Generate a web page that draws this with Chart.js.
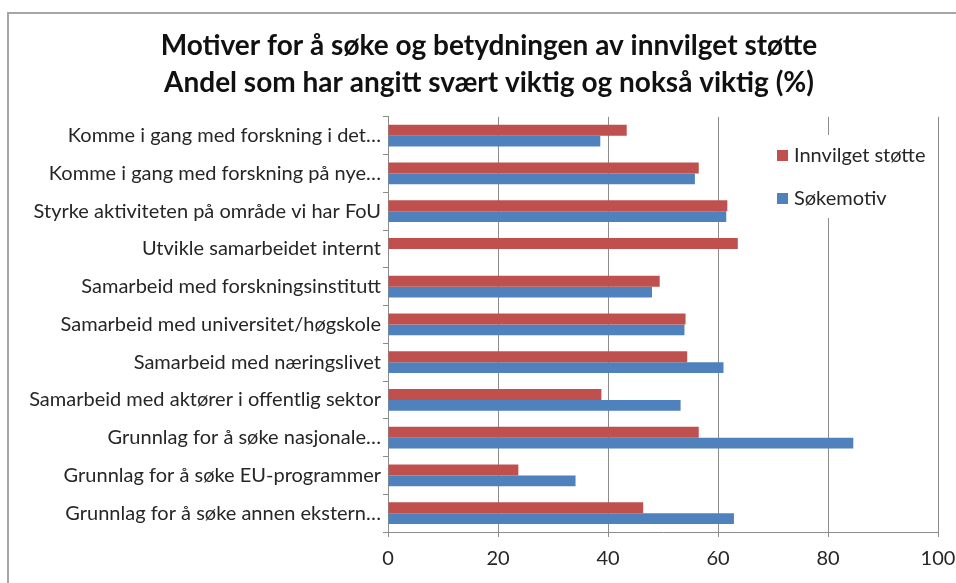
<!DOCTYPE html>
<html>
<head>
<meta charset="utf-8">
<title>Motiver for å søke</title>
<script src="https://cdn.jsdelivr.net/npm/chart.js@4.4.0/dist/chart.umd.min.js"></script>
<style>
  html, body { margin: 0; padding: 0; background: #fff; }
  #wrap { position: relative; width: 956px; height: 583px; }
</style>
</head>
<body>
<div id="wrap"><canvas id="chart" width="956" height="583"></canvas></div>
<script>
// data
const categories = [
  'Komme i gang med forskning i det…',
  'Komme i gang med forskning på nye…',
  'Styrke aktiviteten på område vi har FoU',
  'Utvikle samarbeidet internt',
  'Samarbeid med forskningsinstitutt',
  'Samarbeid med universitet/høgskole',
  'Samarbeid med næringslivet',
  'Samarbeid med aktører i offentlig sektor',
  'Grunnlag for å søke nasjonale…',
  'Grunnlag for å søke EU-programmer',
  'Grunnlag for å søke annen ekstern…'
];
const innvilgetStotte = [43.4, 56.5, 61.7, 63.6, 49.4, 54.1, 54.4, 38.8, 56.5, 23.7, 46.4];
const sokemotiv = [38.6, 55.8, 61.5, null, 48.0, 53.9, 61.0, 53.2, 84.6, 34.1, 62.9];
const xTicks = [0, 20, 40, 60, 80, 100];
const titleLines = [
  'Motiver for å søke og betydningen av innvilget støtte',
  'Andel som har angitt svært viktig og nokså viktig (%)'
];

const FONT = 'Lato, "Open Sans", sans-serif';
const GRID = '#8c8c8c';

// grey frame round the whole chart
const framePlugin = {
  id: 'frame',
  beforeDraw(chart) {
    const ctx = chart.ctx;
    ctx.save();
    ctx.fillStyle = '#fff';
    ctx.fillRect(0, 0, chart.width, chart.height);
    ctx.strokeStyle = '#a6a6a6';
    ctx.lineWidth = 2;
    ctx.strokeRect(8, 13, chart.width + 20, chart.height + 20);
    ctx.restore();
  }
};

// legend box sitting inside the plot, like the excel one
const boxLegend = {
  id: 'boxLegend',
  afterDraw(chart) {
    const ctx = chart.ctx;
    const x = 768, y = 135;
    ctx.save();
    ctx.fillStyle = '#fff';
    ctx.fillRect(x, y, 168, 83);
    ctx.font = '20px ' + FONT;
    ctx.textBaseline = 'middle';
    chart.data.datasets.forEach((ds, i) => {
      const cy = y + 20 + i * 43;
      ctx.fillStyle = ds.backgroundColor;
      ctx.fillRect(x + 9, cy - 5, 11, 11);
      ctx.fillStyle = '#262626';
      ctx.fillText(ds.label, x + 26, cy + 1);
    });
    ctx.restore();
  }
};

new Chart(document.getElementById('chart'), {
  type: 'bar',
  data: {
    labels: categories,
    datasets: [
      { label: 'Innvilget støtte', data: innvilgetStotte, backgroundColor: '#c0504d' },
      { label: 'Søkemotiv', data: sokemotiv, backgroundColor: '#4f81bd' }
    ]
  },
  options: {
    indexAxis: 'y',
    responsive: false,
    animation: false,
    devicePixelRatio: 1,
    categoryPercentage: 0.58,
    barPercentage: 1.0,
    layout: { padding: { left: 26, right: 4, top: 0, bottom: 0 } },
    plugins: {
      legend: { display: false },
      tooltip: { enabled: false },
      title: {
        display: true,
        text: titleLines,
        color: '#111',
        font: { family: FONT, size: 28, weight: 'bold', lineHeight: 1.3 },
        padding: { top: 28, bottom: 16 }
      }
    },
    scales: {
      x: {
        min: 0,
        max: 100,
        afterBuildTicks(scale) { scale.ticks = xTicks.map(v => ({ value: v })); },
        afterFit(scale) {
          scale.height = 51;
          // keep the plot right edge where the reference has it
          scale.paddingLeft = 0;
          scale.paddingRight = 18;
        },
        ticks: { color: '#262626', font: { family: FONT, size: 20 }, padding: 10 },
        grid: { color: GRID, tickLength: 5 },
        border: { color: GRID }
      },
      y: {
        afterFit(scale) { scale.width = 362; },
        ticks: { color: '#262626', font: { family: FONT, size: 20 }, padding: 2, autoSkip: false },
        grid: { color: GRID, drawOnChartArea: false, tickLength: 5, offset: true },
        border: { color: GRID }
      }
    }
  },
  plugins: [framePlugin, boxLegend]
});
</script>
</body>
</html>
